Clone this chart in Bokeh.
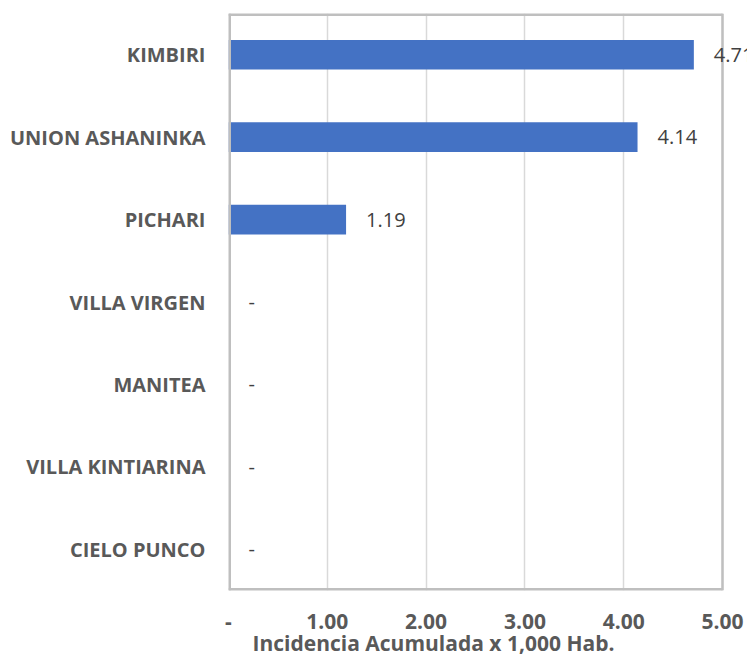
from bokeh.plotting import figure
from bokeh.models import ColumnDataSource, LabelSet, FixedTicker, Title
from bokeh.core.properties import value
from bokeh.embed import file_html
from bokeh.resources import INLINE

categories = ["KIMBIRI", "UNION ASHANINKA", "PICHARI", "VILLA VIRGEN", "MANITEA", "VILLA KINTIARINA", "CIELO PUNCO"]
values = [4.71, 4.14, 1.19, 0, 0, 0, 0]
value_labels = ["4.71", "4.14", "1.19", "-", "-", "-", "-"]
tick_values = [0, 1, 2, 3, 4, 5]
tick_labels = ["-", "1.00", "2.00", "3.00", "4.00", "5.00"]
x_max = 5
axis_title = "Incidencia Acumulada x 1,000 Hab."

FONT = "Open Sans"
FRAME_PX = 494      # pixel width of the axis box (0..5)
EXTRA_PX = 25       # room to the right of the box for the value labels

src = ColumnDataSource(dict(cat=categories, val=values, lab=value_labels))

n = len(categories)
p = figure(width=747, height=658, y_range=list(reversed(categories)),
           x_range=(0, x_max * (FRAME_PX + EXTRA_PX) / FRAME_PX),
           output_backend="svg", toolbar_location=None,
           min_border_left=228, min_border_right=0, min_border_top=13, min_border_bottom=68)
p.outline_line_color = None

p.hbar(y="cat", right="val", height=0.36, source=src, fill_color="#4472c4", line_color=None)

# axis box: left/top/bottom edges lie on the frame edge (half clipped) -> doubled width
BOX = "#bfbfbf"
p.segment(x0=[0, 0, 0], y0=[0, 0, n], x1=[0, x_max, x_max], y1=[n, 0, n],
          line_color=BOX, line_width=5)
p.segment(x0=[x_max], y0=[0], x1=[x_max], y1=[n], line_color=BOX, line_width=2.5)

labels = LabelSet(x="val", y="cat", text="lab", source=src, x_offset=20,
                  text_baseline="middle", text_align="left", text_font=value(FONT),
                  text_font_size="20px", text_color="#404040")
p.add_layout(labels)

p.ygrid.grid_line_color = None
p.xgrid.grid_line_color = "#d9d9d9"
p.xgrid.grid_line_width = 1.5
p.xaxis.ticker = FixedTicker(ticks=tick_values)
p.xaxis.major_label_overrides = {v: l for v, l in zip(tick_values, tick_labels)}

for ax in (p.xaxis, p.yaxis):
    ax.axis_line_color = None
    ax.major_tick_line_color = None
    ax.minor_tick_line_color = None
    ax.major_label_text_font = FONT
    ax.major_label_text_font_style = "bold"
    ax.major_label_text_color = "#595959"

p.yaxis.major_label_text_font_size = "20px"
p.yaxis.major_label_standoff = 17
p.xaxis.major_label_text_font_size = "21px"
p.xaxis.major_label_standoff = 17

p.add_layout(Title(text=axis_title, align="left", offset=24, text_font=FONT,
                   text_font_style="bold", text_font_size="21px", text_color="#595959",
                   standoff=-9), "below")

open("out.html", "w").write(file_html(p, INLINE))
